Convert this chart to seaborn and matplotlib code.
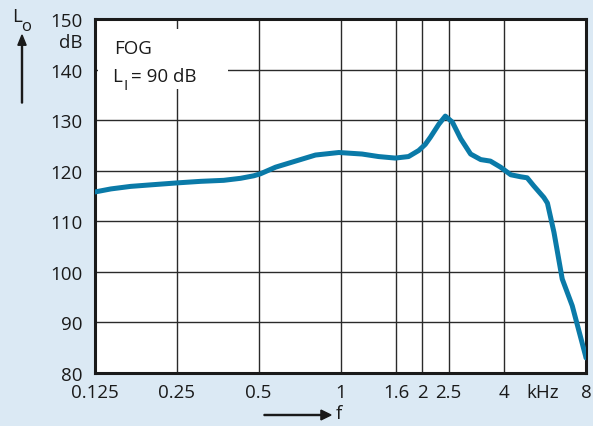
import numpy as np
import pandas as pd
import matplotlib
matplotlib.use("Agg")
import matplotlib.pyplot as plt
import matplotlib.patches as mpatches
import seaborn as sns

# Data
freq_khz = [0.125, 0.143, 0.169, 0.200, 0.252, 0.306, 0.372, 0.429, 0.480, 0.508, 0.577, 0.683,
            0.809, 0.986, 1.20, 1.38, 1.59, 1.78, 1.94, 2.05, 2.14, 2.30, 2.43, 2.58, 2.77,
            3.01, 3.28, 3.56, 3.88, 4.23, 4.60, 4.86, 5.14, 5.60, 5.77, 6.10, 6.54, 7.12,
            7.97, 8.0]
level_db = [115.8, 116.4, 116.9, 117.2, 117.6, 117.9, 118.1, 118.5, 119.0, 119.4, 120.7, 121.9,
            123.1, 123.6, 123.3, 122.8, 122.5, 122.8, 124.0, 125.2, 126.6, 129.2, 130.8, 129.6, 126.3,
            123.3, 122.2, 121.9, 120.7, 119.2, 118.8, 118.6, 117.0, 114.7, 113.6, 107.8, 98.6, 93.3,
            83.4, 83.0]
xticks = [0.125, 0.25, 0.5, 1, 1.6, 2, 2.5, 4, 8]
xticklabels = ["0.125", "0.25", "0.5", "1", "1.6", "2", "2.5", "4", "8"]
yticks = [80, 90, 100, 110, 120, 130, 140, 150]
yticklabels = ["80", "90", "100", "110", "120", "130", "140", "150"]

df = pd.DataFrame({"f": freq_khz, "L": level_db})

sns.set_theme(style="white")
plt.rcParams["font.family"] = ["Open Sans", "DejaVu Sans"]

W, H = 593, 427
bg = "#dbe9f4"
txt = "#1a1a1a"
fs = 13.5
fig = plt.figure(figsize=(W/100, H/100), dpi=100, facecolor=bg)
ax = fig.add_axes([95/W, 1-374/H, (586-95)/W, (374-20)/H])
ax.set_facecolor("white")

sns.lineplot(data=df, x="f", y="L", ax=ax, color="#0a7aa8", lw=3.6, zorder=5)
for ln in ax.get_lines():
    ln.set_solid_joinstyle("round")
    ln.set_solid_capstyle("round")

ax.set_xscale("log")
ax.set_xlim(0.125, 8)
ax.set_ylim(80, 150)
ax.set_xticks(xticks)
ax.set_xticklabels(xticklabels)
ax.minorticks_off()
ax.set_yticks(yticks)
ax.set_yticklabels(yticklabels)
ax.tick_params(axis="both", length=0, labelsize=fs, colors=txt)
ax.tick_params(axis="y", pad=9)
ax.tick_params(axis="x", pad=7)
ax.grid(True, color="#2a2a2a", lw=1.0)
for s in ax.spines.values():
    s.set_color(txt)
    s.set_linewidth(2.2)
ax.set_xlabel("")
ax.set_ylabel("")

def px(x, y):
    return x / W, 1 - y / H

# white box behind the annotation (hides grid lines)
fig.patches.append(mpatches.Rectangle(px(98, 90), 130/W, 60/H, facecolor="white",
                                      edgecolor="none", transform=fig.transFigure, zorder=2))
fig.text(*px(114, 49.5), "FOG", fontsize=fs, ha="left", va="center", color=txt, zorder=3)
fig.text(*px(112, 76.5), "L", fontsize=fs, ha="left", va="center", color=txt, zorder=3)
fig.text(*px(123.5, 86), "I", fontsize=11, ha="left", va="center", color=txt, zorder=3)
fig.text(*px(131, 76.5), "= 90 dB", fontsize=fs, ha="left", va="center", color=txt, zorder=3)

# kHz label among x tick labels
fig.text(*px(543, 393), "kHz", fontsize=fs, ha="center", va="center", color=txt)
# dB unit under 150
fig.text(*px(83, 43), "dB", fontsize=fs, ha="right", va="center", color=txt)
# Y quantity with arrow
fig.text(*px(12, 16.5), "L", fontsize=fs, ha="left", va="center", color=txt)
fig.text(*px(21.5, 27), "o", fontsize=12, ha="left", va="center", color=txt)
fig.patches.append(mpatches.FancyArrow(22/W, 1-104/H, 0, 68/H, width=0.0017,
                   head_width=0.014, head_length=0.024, length_includes_head=True,
                   color=txt, transform=fig.transFigure))
# X quantity with arrow
fig.patches.append(mpatches.FancyArrow(264/W, 1-416/H, 67/W, 0, width=0.0024,
                   head_width=0.023, head_length=0.017, length_includes_head=True,
                   color=txt, transform=fig.transFigure))
fig.text(*px(339, 414), "f", fontsize=fs, ha="center", va="center", color=txt)

fig.savefig("out.png", dpi=100, facecolor=bg)
